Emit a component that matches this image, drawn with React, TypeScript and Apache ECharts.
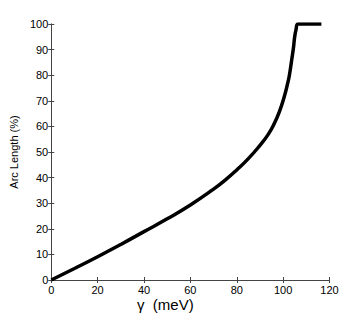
import React, { useEffect, useRef } from "react";
import * as echarts from "echarts";

const gammaMeV = [0, 10, 20, 30, 40, 50, 60, 70, 75, 80, 85, 90, 93.5, 96, 98.4, 100.6, 102, 102.7, 103.8, 104.5, 104.9, 105.5, 106.5, 116.5];
const arcLength = [0, 4.5, 9.1, 13.9, 18.9, 23.9, 29.3, 35.5, 39.0, 43.0, 47.4, 52.6, 56.8, 60.8, 65.8, 72, 77, 80, 86.6, 91, 94.4, 97.5, 100, 100];

const xTicks = [0, 20, 40, 60, 80, 100, 120];
const yTicks = [0, 10, 20, 30, 40, 50, 60, 70, 80, 90, 100];

const axisColor = "#444";
const font = "'Liberation Sans', Arial, sans-serif";

export default function App() {
  const ref = useRef<HTMLDivElement>(null);
  useEffect(() => {
    const chart = echarts.init(ref.current!, null, { renderer: "svg" });
    const common = {
      axisLine: { show: true, lineStyle: { color: axisColor, width: 1 } },
      axisTick: { show: true, inside: true, length: 3, lineStyle: { color: axisColor } },
      splitLine: { show: false },
    };
    chart.setOption({
      animation: false,
      backgroundColor: "#fff",
      grid: { left: 47.5, right: 34.5, top: 24, bottom: 36 },
      xAxis: [
        {
          type: "value",
          min: xTicks[0],
          max: xTicks[xTicks.length - 1],
          interval: 20,
          position: "bottom",
          ...common,
          axisLabel: { color: "#000", fontSize: 11, fontFamily: font, margin: 4 },
        },
        {
          type: "value",
          min: xTicks[0],
          max: xTicks[xTicks.length - 1],
          interval: 20,
          position: "top",
          ...common,
          axisLabel: { show: false },
        },
      ],
      yAxis: [
        {
          type: "value",
          min: yTicks[0],
          max: yTicks[yTicks.length - 1],
          interval: 10,
          position: "left",
          ...common,
          axisLabel: { color: "#000", fontSize: 11, fontFamily: font, margin: 3 },
          name: "Arc Length (%)",
          nameLocation: "middle",
          nameRotate: 90,
          nameGap: 28,
          nameTextStyle: { color: "#000", fontSize: 11, fontFamily: font },
        },
        {
          type: "value",
          min: yTicks[0],
          max: yTicks[yTicks.length - 1],
          interval: 10,
          position: "right",
          ...common,
          axisLabel: { show: false },
        },
      ],
      graphic: [
        {
          type: "text",
          left: 137,
          top: 297,
          style: {
            text: "γ  (meV)",
            fontSize: 15,
            fontFamily: font,
            fill: "#000",
          },
        },
      ],
      series: [
        {
          type: "line",
          xAxisIndex: 0,
          yAxisIndex: 0,
          data: gammaMeV.map((g, i) => [g, arcLength[i]]),
          showSymbol: false,
          smooth: 0.5,
          lineStyle: { color: "#000", width: 3.5 },
        },
      ],
    });
    return () => chart.dispose();
  }, []);
  return <div ref={ref} style={{ width: 364, height: 316, position: "absolute", left: 0, top: 0 }} />;
}
